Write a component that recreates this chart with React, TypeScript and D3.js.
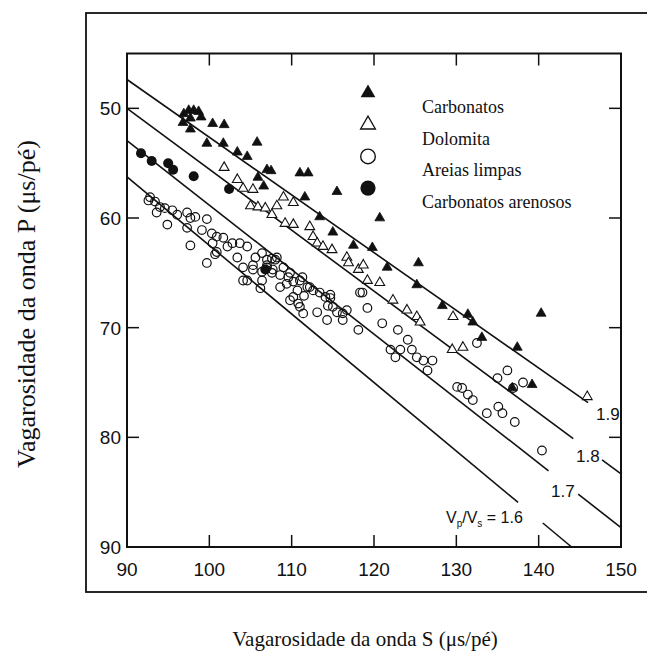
import React from 'react';
import * as d3 from 'd3';

// ---------- data ----------
const xTicks = [90, 100, 110, 120, 130, 140, 150];
const yTicks = [50, 60, 70, 80, 90];
const xInnerTicks = [100, 110, 120, 130, 140];
const yInnerTicks = [50, 60, 70, 80];

// Vp/Vs iso-lines: [ratio, S start, S end]
const ratioSegments: [number, number, number][] = [
  [1.9, 90, 146],
  [1.8, 90, 144.2],
  [1.8, 147.7, 150],
  [1.7, 90, 141.2],
  [1.7, 144.8, 150],
  [1.6, 90, 137.5],
  [1.6, 140.5, 144],
];

// Carbonatos (filled triangles) [S, P]
const carbonatos: [number, number][] = [
  [96.9, 50.5], [97.5, 50.2], [98.1, 50.2], [98.7, 50.3], [99.0, 50.8], [97.7, 50.9],
  [96.8, 51.3], [97.7, 51.9], [100.4, 51.4], [101.8, 51.5], [99.7, 53.2], [101.7, 53.2],
  [103.4, 54.0], [104.6, 54.4], [105.8, 53.1], [107.0, 55.6], [107.5, 55.7], [105.9, 56.3],
  [106.6, 57.1], [111.0, 55.9], [112.0, 55.9], [111.6, 58.1], [115.5, 57.6], [120.7, 60.0],
  [113.4, 59.9], [115.0, 61.3], [117.5, 62.5], [119.8, 62.7], [121.6, 64.5], [125.4, 64.1],
  [125.2, 66.1], [128.3, 68.0], [131.4, 68.8], [132.0, 69.5], [133.1, 70.9], [137.4, 71.8],
  [140.3, 68.7], [139.2, 75.2], [136.8, 75.5],
];

// Dolomita (open triangles)
const dolomita: [number, number][] = [
  [101.8, 55.4], [103.4, 56.5], [104.1, 57.3], [105.3, 57.4], [105.0, 58.9], [105.9, 59.0],
  [106.8, 59.1], [107.6, 59.7], [108.2, 58.9], [109.0, 58.1], [110.2, 58.6], [109.2, 60.5],
  [110.2, 60.6], [112.2, 60.8], [112.6, 61.7], [113.1, 62.3], [113.8, 62.6], [114.9, 62.9],
  [116.7, 63.6], [116.9, 64.1], [118.1, 64.7], [118.7, 64.3], [119.2, 65.7], [120.7, 65.9],
  [122.3, 67.5], [124.0, 68.4], [125.2, 69.0], [125.6, 69.5], [129.6, 69.0], [130.8, 71.8],
  [129.5, 72.0], [145.9, 76.3],
];

// Areias limpas (open circles)
const areias: [number, number][] = [
  [92.8, 58.1], [92.6, 58.4], [93.4, 58.5], [94.0, 59.0], [93.6, 59.5], [94.9, 60.6],
  [94.6, 59.1], [95.5, 59.3], [96.1, 59.7], [97.3, 59.5], [97.7, 60.0], [98.3, 59.9],
  [99.7, 60.1], [97.3, 60.9], [97.7, 62.5], [99.7, 64.1], [99.1, 61.1], [100.3, 61.4],
  [100.9, 61.7], [101.7, 61.8], [100.4, 62.3], [100.9, 63.1], [102.2, 62.6], [102.8, 62.3],
  [103.7, 62.3], [104.6, 62.6], [103.4, 63.6], [104.1, 64.5], [104.6, 65.7], [105.6, 63.6],
  [106.4, 63.2], [107.0, 63.8], [107.6, 63.7], [108.2, 63.6], [106.4, 65.7], [107.0, 64.5],
  [107.6, 65.0], [106.2, 66.4], [100.7, 63.3], [104.1, 65.7], [105.3, 64.7], [107.0, 64.3],
  [108.0, 63.8], [108.6, 65.2], [109.6, 65.4], [110.2, 65.8], [111.3, 65.4], [111.9, 66.3],
  [110.2, 67.2], [110.8, 67.8], [111.4, 68.7], [113.1, 68.6], [114.3, 69.3], [113.4, 66.8],
  [114.7, 67.3], [115.0, 68.1], [116.2, 69.3], [116.7, 68.4], [118.1, 70.2], [118.3, 66.8],
  [108.6, 66.3], [109.0, 64.5], [109.8, 65.0], [111.0, 65.7], [112.2, 66.3], [114.7, 67.0],
  [116.2, 68.7], [118.6, 66.8], [119.2, 68.2], [109.8, 67.5], [111.0, 68.1], [121.0, 69.6],
  [122.9, 70.2], [124.1, 71.1], [122.0, 72.0], [123.2, 72.0], [122.6, 72.7], [124.6, 72.0],
  [125.2, 72.7], [126.0, 73.0], [127.1, 73.0], [126.5, 73.9], [130.1, 75.4], [130.7, 75.5],
  [131.4, 76.1], [132.0, 76.6], [133.7, 77.8], [135.1, 77.2], [135.6, 77.8], [137.1, 78.6],
  [136.2, 73.9], [135.0, 74.6], [136.9, 75.5], [138.1, 75.0], [140.4, 81.2], [132.5, 71.4],
  [105.3, 64.3], [106.4, 64.9], [107.7, 64.7], [109.4, 66.0], [110.7, 66.6], [111.5, 67.1],
  [112.6, 66.6], [114.1, 67.2], [114.4, 68.0], [115.5, 68.6],
];

// Carbonatos arenosos (filled circles)
const carbArenosos: [number, number][] = [
  [91.7, 54.1], [93.0, 54.8], [95.0, 55.0], [95.6, 55.6], [98.1, 56.2], [102.4, 57.35],
  [106.8, 64.7],
];

const legendItems = [
  { label: 'Carbonatos', kind: 'triFilled' },
  { label: 'Dolomita', kind: 'triOpen' },
  { label: 'Areias limpas', kind: 'circOpen' },
  { label: 'Carbonatos arenosos', kind: 'circFilled' },
];

// ---------- layout ----------
const W = 647;
const H = 659;
const X0 = 127, X1 = 621, Y0 = 53.5, Y1 = 547;
const SANS = "'Liberation Sans', Arial, Helvetica, sans-serif";
const SERIF = "'Liberation Serif', 'Times New Roman', Times, serif";

export default function App() {
  const x = d3.scaleLinear().domain([90, 150]).range([X0, X1]);
  const y = d3.scaleLinear().domain([45, 90]).range([Y0, Y1]);
  const line = d3.line<[number, number]>().x(d => x(d[0])).y(d => y(d[1]));
  const triSmall = d3.symbol().type(d3.symbolTriangle).size(42)()!;
  const triLegend = d3.symbol().type(d3.symbolTriangle).size(95)()!;
  const tick = 12;

  return (
    <svg width={W} height={H} style={{ position: 'absolute', left: 0, top: 0, background: '#fff' }}>
      {/* outer frame */}
      <rect x={86} y={13} width={640} height={579} fill="none" stroke="#111" strokeWidth={1.8} />

      {/* plot frame */}
      <rect x={X0} y={Y0} width={X1 - X0} height={Y1 - Y0} fill="none" stroke="#111" strokeWidth={2} />

      {/* ticks */}
      {xInnerTicks.map(t => (
        <g key={'xt' + t}>
          <line x1={x(t)} x2={x(t)} y1={Y1} y2={Y1 - tick} stroke="#111" strokeWidth={1.5} />
          <line x1={x(t)} x2={x(t)} y1={Y0} y2={Y0 + tick} stroke="#111" strokeWidth={1.5} />
        </g>
      ))}
      {yInnerTicks.map(t => (
        <g key={'yt' + t}>
          <line x1={X0} x2={X0 + tick} y1={y(t)} y2={y(t)} stroke="#111" strokeWidth={1.5} />
          <line x1={X1} x2={X1 - tick} y1={y(t)} y2={y(t)} stroke="#111" strokeWidth={1.5} />
        </g>
      ))}

      {/* tick labels */}
      {xTicks.map(t => (
        <text key={'xl' + t} x={x(t)} y={Y1 + 29} textAnchor="middle" fontFamily={SANS} fontSize={19} fill="#111">
          {t}
        </text>
      ))}
      {yTicks.map(t => (
        <text key={'yl' + t} x={X0 - 6} y={y(t) + 7} textAnchor="end" fontFamily={SANS} fontSize={19} fill="#111">
          {t}
        </text>
      ))}

      {/* ratio lines */}
      {ratioSegments.map(([r, s0, s1], i) => (
        <path
          key={'rl' + i}
          d={line([[s0, s0 / r], [s1, s1 / r]])!}
          fill="none"
          stroke="#111"
          strokeWidth={1.6}
        />
      ))}

      {/* ratio labels */}
      <text x={596} y={420} fontFamily={SANS} fontSize={17} fill="#111">1.9</text>
      <text x={576} y={462} fontFamily={SANS} fontSize={17} fill="#111">1.8</text>
      <text x={551} y={497} fontFamily={SANS} fontSize={17} fill="#111">1.7</text>
      <text x={446} y={523} fontFamily={SANS} fontSize={16} fill="#111">
        V<tspan fontSize={10} dy={4}>p</tspan>
        <tspan dy={-4}>/V</tspan>
        <tspan fontSize={10} dy={4}>s</tspan>
        <tspan dy={-4}> = 1.6</tspan>
      </text>

      {/* data points */}
      {areias.map((d, i) => (
        <circle key={'a' + i} cx={x(d[0])} cy={y(d[1])} r={4.3} fill="#fff" fillOpacity={0} stroke="#111" strokeWidth={1.2} />
      ))}
      {dolomita.map((d, i) => (
        <path key={'d' + i} d={triSmall} transform={`translate(${x(d[0])},${y(d[1])})`} fill="#fff" stroke="#111" strokeWidth={1.1} />
      ))}
      {carbonatos.map((d, i) => (
        <path key={'c' + i} d={triSmall} transform={`translate(${x(d[0])},${y(d[1])})`} fill="#111" stroke="#111" strokeWidth={0.8} />
      ))}
      {carbArenosos.map((d, i) => (
        <circle key={'ca' + i} cx={x(d[0])} cy={y(d[1])} r={5} fill="#111" />
      ))}

      {/* legend */}
      {legendItems.map((it, i) => {
        const my = 93 + i * 31.7;
        const mx = 368;
        let marker;
        if (it.kind === 'triFilled') marker = <path d={triLegend} transform={`translate(${mx},${my})`} fill="#111" />;
        else if (it.kind === 'triOpen') marker = <path d={triLegend} transform={`translate(${mx},${my})`} fill="#fff" stroke="#111" strokeWidth={1.3} />;
        else if (it.kind === 'circOpen') marker = <circle cx={mx} cy={my} r={7.3} fill="#fff" stroke="#111" strokeWidth={1.4} />;
        else marker = <circle cx={mx} cy={my} r={7.6} fill="#111" />;
        return (
          <g key={'lg' + i}>
            {marker}
            <text x={422} y={my + 20} fontFamily={SERIF} fontSize={18} fill="#111">{it.label}</text>
          </g>
        );
      })}

      {/* axis titles */}
      <text x={365} y={646} textAnchor="middle" fontFamily={SERIF} fontSize={21} fill="#111">
        Vagarosidade da onda S (μs/pé)
      </text>
      <text transform="translate(35,304) rotate(-90)" textAnchor="middle" fontFamily={SERIF} fontSize={26} fill="#111">
        Vagarosidade da onda P (μs/pé)
      </text>
    </svg>
  );
}
